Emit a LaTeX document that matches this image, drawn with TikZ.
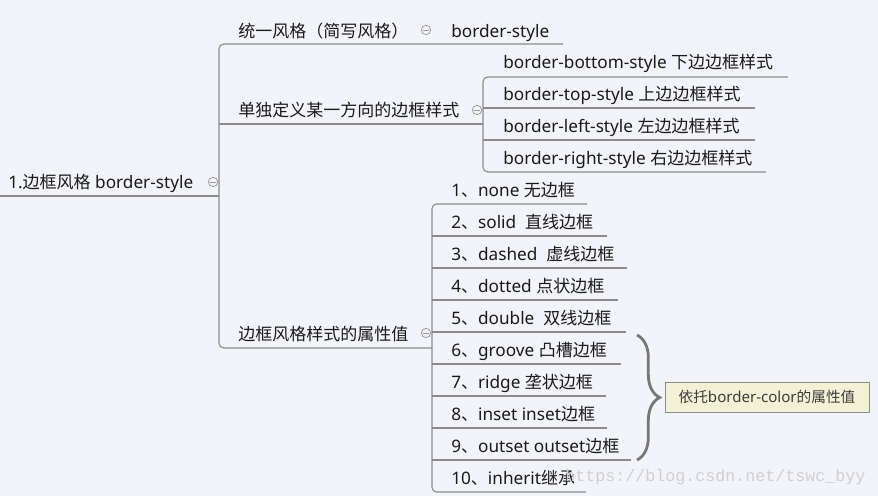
\documentclass[tikz,border=0pt]{standalone}
\usepackage{fontspec}
\setmainfont{Noto Sans}
\newfontfamily\zhfont{Noto Sans CJK SC}
\newfontfamily\wmfont{Liberation Mono}
\def\zhsize{12pt}
\newcommand\zh[1]{{\zhfont\fontsize{\zhsize}{14pt}\selectfont #1}}
\usetikzlibrary{decorations.pathreplacing}
\definecolor{bg}{HTML}{F3F4F9}
\definecolor{ln}{HTML}{8C8C8C}
\definecolor{tx}{HTML}{1A1A1A}
\definecolor{ic}{HTML}{9C9C9C}
\definecolor{note}{HTML}{F3F1D6}
\definecolor{notetx}{HTML}{3C3C3C}
\definecolor{wm}{HTML}{D0D0D0}
\begin{document}
\begin{tikzpicture}[x=0.75pt,y=-0.75pt,
  topic/.style={anchor=base west, inner sep=0pt, font=\fontsize{12.9pt}{15pt}\selectfont\def\zhsize{12.75pt}, text=tx},
  conn/.style={draw=ln, line width=0.85pt, rounded corners=3.5pt},
  fold/.style={circle, draw=ic, fill=bg, line width=0.6pt, minimum size=7pt, inner sep=0pt,
    path picture={\draw[ic, line width=0.6pt] ([xshift=-2pt]path picture bounding box.center) -- ([xshift=2pt]path picture bounding box.center);}},
  notebox/.style={draw=ln, fill=note, line width=0.7pt, text=notetx, inner sep=0pt,
    minimum width=153pt, minimum height=22.5pt, font=\fontsize{11.3pt}{14pt}\selectfont\def\zhsize{11pt}},
  brace/.style={draw=ln!85!black, line width=2.1pt, decorate, decoration={brace, amplitude=17pt}}]
\fill[bg] (0,0) rectangle (878,496);
\useasboundingbox (0,0) rectangle (878,496);

% ---- nodes ----
\node[topic] (root) at (8,188) {1.\zh{边框风格} border-style};
\node[topic] (b1) at (238,37) {\zh{统一风格（简写风格）}};
\node[topic] (b1c) at (451,37) {border-style};
\node[topic] (b2) at (238,116) {\zh{单独定义某一方向的边框样式}};
\node[topic] (b2a) at (503,68) {border-bottom-style \zh{下边边框样式}};
\node[topic] (b2b) at (503,100) {border-top-style \zh{上边边框样式}};
\node[topic] (b2c) at (503,132) {border-left-style \zh{左边边框样式}};
\node[topic] (b2d) at (503,164) {border-right-style \zh{右边边框样式}};
\node[topic] (b3) at (238,340) {\zh{边框风格样式的属性值}};
\node[topic] (i1) at (451,196) {1\zh{、}none \zh{无边框}};
\node[topic] (i2) at (451,228) {2\zh{、}solid\ \ \zh{直线边框}};
\node[topic] (i3) at (451,260) {3\zh{、}dashed\ \ \zh{虚线边框}};
\node[topic] (i4) at (451,292) {4\zh{、}dotted \zh{点状边框}};
\node[topic] (i5) at (451,324) {5\zh{、}double\ \ \zh{双线边框}};
\node[topic] (i6) at (451,356) {6\zh{、}groove \zh{凸槽边框}};
\node[topic] (i7) at (451,388) {7\zh{、}ridge \zh{垄状边框}};
\node[topic] (i8) at (451,420) {8\zh{、}inset inset\zh{边框}};
\node[topic] (i9) at (451,452) {9\zh{、}outset outset\zh{边框}};
\node[topic] (i10) at (451,484) {10\zh{、}inherit\zh{继承}};

% ---- junction coordinates ----
\coordinate (r0) at (0,196);
\coordinate (rJ) at (219,196);
\coordinate (b1s) at (219,44);
\coordinate (b1e) at (563,44);
\coordinate (b2s) at (219,124);
\coordinate (b2e) at (483,124);
\coordinate (b3s) at (219,348);
\coordinate (b3e) at (432,348);

% ---- connectors ----
\draw[conn] (r0) -- (rJ);
\draw[conn] (b1e) -- (b1s) -- (b3s) -- (b3e);
\draw[conn] (b2s) -- (b2e);

\draw[conn] (788,77) -- (b2e |- 0,77) -- (b2e |- 0,172) -- (766,172);
\draw[conn] (b2e |- 0,108) -- (755,108);
\draw[conn] (b2e |- 0,140) -- (755,140);

\draw[conn] (587,204) -- (b3e |- 0,204) -- (b3e |- 0,492) -- (586,492);
\draw[conn] (b3e |- 0,236) -- (607,236);
\draw[conn] (b3e |- 0,268) -- (627,268);
\draw[conn] (b3e |- 0,300) -- (618,300);
\draw[conn] (b3e |- 0,332) -- (626,332);
\draw[conn] (b3e |- 0,364) -- (621,364);
\draw[conn] (b3e |- 0,396) -- (606,396);
\draw[conn] (b3e |- 0,428) -- (607,428);
\draw[conn] (b3e |- 0,460) -- (631,460);

% ---- fold icons ----
\node[fold] (f0) at (213,182) {};
\node[fold] (f1) at (426,30) {};
\node[fold] (f2) at (477,110) {};
\node[fold] (f3) at (426,333) {};

% ---- brace & note ----
\coordinate (brT) at (637,335);
\coordinate (brB) at (637,460);
\draw[brace] (brT) -- (brB);
\node[notebox] (note) at (767,397) {\zh{依托}border-color\zh{的属性值}};

% ---- watermark ----
\node[anchor=west, inner sep=0pt, text=wm, font=\wmfont\fontsize{12.5pt}{14pt}\selectfont] (wmark) at (565,477) {https://blog.csdn.net/tswc\_byy};
\end{tikzpicture}
\end{document}
